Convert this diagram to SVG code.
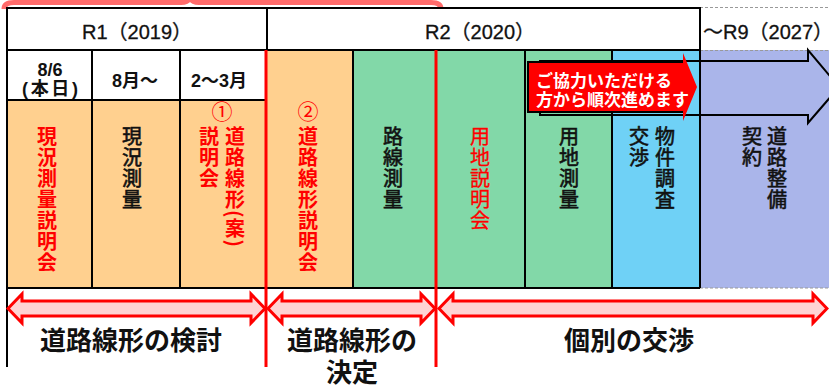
<svg xmlns="http://www.w3.org/2000/svg" width="829" height="385" viewBox="0 0 829 385">
<style>
text{font-family:"Liberation Sans","Noto Sans CJK JP",sans-serif;}
.hd{font-size:20px;fill:#111;stroke:#111;stroke-width:0.3;}
.sh{font-size:18px;font-weight:bold;fill:#111;text-anchor:middle;}
.v{writing-mode:vertical-rl;font-family:"Noto Sans CJK JP",sans-serif;font-size:20px;letter-spacing:1px;}
.vr{fill:#ff0000;font-weight:bold;}
.vrn{fill:#ff0000;stroke:#ff0000;stroke-width:0.3;}
.vb{fill:#111;stroke:#111;stroke-width:0.6;}
.num{font-family:"Noto Sans CJK JP",sans-serif;font-size:21px;fill:#ff0000;text-anchor:middle;}
.lbl{font-family:"Noto Sans CJK JP",sans-serif;font-size:26px;font-weight:bold;fill:#111;text-anchor:middle;}
.bl{stroke:#000;stroke-width:2;fill:none;}
.rl{stroke:#ff0000;stroke-width:3;fill:none;}
.dash{stroke:#999;stroke-width:1;stroke-dasharray:3 2;fill:none;}
.dbl{fill:#ffd3d3;stroke:#ff0000;stroke-width:3;stroke-linejoin:miter;}
.co{font-family:"Noto Sans CJK JP",sans-serif;font-size:17px;font-weight:bold;fill:#fff;}
.or{fill:#ffd08f;}
.gr{fill:#82d8a8;}
.bu{fill:#6fd1f6;}
.pu{fill:#aab5ea;}
</style>

<!-- top brace -->
<path d="M4,9 Q4,2.5 14,2.5 H181 Q188,2.5 190,-2 Q192,2.5 199,2.5 H431 Q441,2.5 441,9" stroke="#ff6b6b" stroke-width="5" fill="none"/>

<!-- cell fills -->
<g id="fills">
<rect class="or" x="7" y="100" width="260" height="188"/>
<rect class="or" x="267" y="50" width="86" height="238"/>
<rect class="gr" x="353" y="50" width="259" height="238"/>
<rect class="bu" x="612" y="50" width="88" height="238"/>
<rect class="pu" x="700" y="50" width="129" height="238"/>
</g>

<!-- grid lines -->
<g id="grid">
<path class="dash" d="M700,7.5 H829 M700,50.5 H829 M700,288 H829"/>
<path class="bl" d="M7,8 H700 V288 M7,50 H700 M7,100 H267 M7,288 H700 M267,8 V50 M92,50 V288 M180,50 V288 M353,50 V288 M525,50 V288 M612,50 V288"/>
<path class="bl" d="M7,7 V367"/>
<path class="rl" d="M266,50 V367 M436,50 V367"/>
</g>

<!-- header -->
<g id="h-r1"><text class="hd" x="137" y="39" text-anchor="middle">R1（2019）</text></g>
<g id="h-r2"><text class="hd" x="480" y="39" text-anchor="middle">R2（2020）</text></g>
<g id="h-r9"><text class="hd" x="703" y="39">～R9（2027）</text></g>

<!-- subheaders -->
<g id="s-86">
<text class="sh" x="50" y="76" font-size="19">8/6</text>
<text class="sh" x="50" y="95" textLength="56" lengthAdjust="spacing">(本日)</text>
</g>
<g id="s-8"><text class="sh" x="135" y="87">8月～</text></g>
<g id="s-23"><text class="sh" x="219" y="87">2～3月</text></g>

<!-- body columns -->
<g id="c1"><text class="v vr" x="47" y="126">現況測量説明会</text></g>
<g id="c2"><text class="v vb" x="132" y="126">現況測量</text></g>
<g id="c3">
<text class="num" x="222" y="119">①</text>
<text class="v vr" x="235" y="126">道路線形(案)</text>
<text class="v vr" x="209" y="126">説明会</text>
</g>
<g id="c4">
<text class="num" x="308" y="119">②</text>
<text class="v vr" x="308" y="126">道路線形説明会</text>
</g>
<g id="c5"><text class="v vb" x="393" y="126">路線測量</text></g>
<g id="c6"><text class="v vrn" x="480" y="126">用地説明会</text></g>
<g id="c7"><text class="v vb" x="569" y="126">用地測量</text></g>
<g id="c8">
<text class="v vb" x="665" y="126">物件調査</text>
<text class="v vb" x="639" y="126">交渉</text>
</g>
<g id="c9">
<text class="v vb" x="777" y="126">道路整備</text>
<text class="v vb" x="752" y="126">契約</text>
</g>

<!-- connectors -->
<g id="connectors">
<polygon points="540,61 808,61 808,50 839,87 808,123 808,115 540,115" fill="none" stroke="#000" stroke-width="2"/>
<polygon class="dbl" points="8,308.5 22,294 22,301 251,301 251,294 265,308.5 251,323 251,316 22,316 22,323"/>
<polygon class="dbl" points="268,308.5 282,294 282,301 421,301 421,294 435,308.5 421,323 421,316 282,316 282,323"/>
<polygon class="dbl" points="439,308.5 453,294 453,301 813,301 813,294 827,308.5 813,323 813,316 453,316 453,323"/>
</g>

<!-- callout -->
<g id="callout">
<polygon points="528,62 683,62 683,53 697,87 683,121 683,112 528,112" fill="#ff0000"/>
<path d="M683,62 H528 V112 H683" fill="none" stroke="#000" stroke-width="2"/>
<text class="co" x="536" y="87">ご協力いただける</text>
<text class="co" x="536" y="106">方から順次進めます</text>
</g>

<!-- bottom labels -->
<g id="l1"><text class="lbl" x="131" y="350">道路線形の検討</text></g>
<g id="l2">
<text class="lbl" x="352" y="350">道路線形の</text>
<text class="lbl" x="352" y="382">決定</text>
</g>
<g id="l3"><text class="lbl" x="629" y="350">個別の交渉</text></g>
</svg>
